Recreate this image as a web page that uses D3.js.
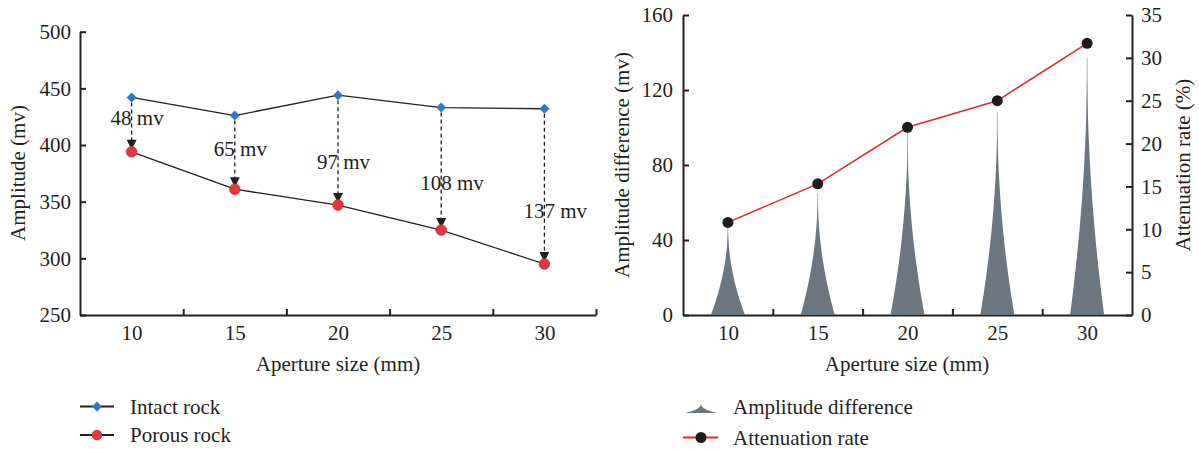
<!DOCTYPE html>
<html><head><meta charset="utf-8">
<script src="https://cdnjs.cloudflare.com/ajax/libs/d3/7.8.5/d3.min.js"></script>
<style>
body{margin:0;background:#fff;}
svg text{font-family:"Liberation Serif","Times New Roman",serif;fill:#231f20;}
</style></head>
<body><svg id="c" width="1199" height="449"></svg>
<script>
// ---- data ----
const apertureSizes = [10, 15, 20, 25, 30];
const intactRock = [442, 426, 444, 433, 432];
const porousRock = [394, 361, 347, 325, 295];
const differenceLabels = ["48 mv", "65 mv", "97 mv", "108 mv", "137 mv"];
const labelLevels = [424, 397, 385, 366.5, 342]; // annotation anchor (mv)
const amplitudeDifference = [48, 65, 97, 108, 137];
const attenuationRate = [10.8, 15.3, 21.9, 25.0, 31.7];
const leftYTicks = [250, 300, 350, 400, 450, 500];
const diffTicks = [0, 40, 80, 120, 160];
const rateTicks = [0, 5, 10, 15, 20, 25, 30, 35];

const svg = d3.select("#c");
const ink = "#231f20";
const FS = 21;

function styleAxis(g){
  g.selectAll("path.domain").attr("stroke", ink).attr("stroke-width", 2);
  g.selectAll(".tick line").attr("stroke", ink).attr("stroke-width", 2);
  g.selectAll("text").attr("font-size", FS).attr("fill", ink)
    .attr("font-family", '"Liberation Serif","Times New Roman",serif');
}

// ================= LEFT CHART =================
const xL = d3.scaleLinear().domain([7.5, 32.5]).range([80, 596]);
const yL = d3.scaleLinear().domain([250, 500]).range([315, 31.7]);

svg.append("g").attr("transform", "translate(80,0)")
  .call(d3.axisLeft(yL).tickValues(leftYTicks).tickSizeInner(-6).tickSizeOuter(0).tickPadding(9))
  .call(styleAxis);
svg.append("g").attr("transform", "translate(0,315)")
  .call(d3.axisBottom(xL).tickValues(apertureSizes).tickSize(0).tickPadding(10).tickFormat(d3.format("d")))
  .call(styleAxis);
svg.append("g").attr("transform", "translate(0,315)")
  .call(d3.axisBottom(xL).tickValues([12.5, 17.5, 22.5, 27.5, 32.5]).tickSizeInner(-6).tickSizeOuter(0).tickFormat(""))
  .call(styleAxis).select("path.domain").remove();

// arrows
const defs = svg.append("defs");
defs.append("marker").attr("id", "arr").attr("viewBox", "0 0 10 10")
  .attr("refX", 10).attr("refY", 5).attr("markerWidth", 11).attr("markerHeight", 10)
  .attr("markerUnits", "userSpaceOnUse").attr("orient", "auto")
  .append("path").attr("d", "M0,0 L10,5 L0,10 Z").attr("fill", ink);

apertureSizes.forEach((a, i) => {
  svg.append("line").attr("x1", xL(a)).attr("x2", xL(a))
    .attr("y1", yL(intactRock[i]) + 5).attr("y2", yL(porousRock[i]) - 2)
    .attr("stroke", ink).attr("stroke-width", 1.3).attr("stroke-dasharray", "4,3")
    .attr("marker-end", "url(#arr)");
});

const lineL = d3.line().x((d, i) => xL(apertureSizes[i])).y(d => yL(d));
svg.append("path").datum(intactRock).attr("d", lineL).attr("fill", "none").attr("stroke", ink).attr("stroke-width", 1.3);
svg.append("path").datum(porousRock).attr("d", lineL).attr("fill", "none").attr("stroke", ink).attr("stroke-width", 1.3);

const diamond = d3.symbol().type(d3.symbolSquare).size(50);
svg.selectAll(".intact").data(intactRock).enter().append("path")
  .attr("transform", (d, i) => `translate(${xL(apertureSizes[i])},${yL(d)}) rotate(45)`)
  .attr("d", diamond).attr("fill", "#2f78c4");
svg.selectAll(".porous").data(porousRock).enter().append("circle")
  .attr("cx", (d, i) => xL(apertureSizes[i])).attr("cy", d => yL(d)).attr("r", 5.3)
  .attr("fill", "#e2383d").attr("stroke", "#d42a30").attr("stroke-width", 0.8);

svg.selectAll(".dl").data(differenceLabels).enter().append("text")
  .attr("x", (d, i) => xL(apertureSizes[i]) - 21).attr("y", (d, i) => yL(labelLevels[i]))
  .attr("dy", "0.35em").attr("font-size", FS).text(d => d);

svg.append("text").attr("transform", "translate(18,173) rotate(-90)")
  .attr("text-anchor", "middle").attr("dy", "0.35em").attr("font-size", FS).text("Amplitude (mv)");
svg.append("text").attr("x", 338).attr("y", 371).attr("text-anchor", "middle")
  .attr("font-size", FS).text("Aperture size (mm)");

// legend left
[["Intact rock", "d"], ["Porous rock", "c"]].forEach((it, k) => {
  const yy = 406.5 + k * 28.5;
  svg.append("line").attr("x1", 80).attr("x2", 114).attr("y1", yy).attr("y2", yy)
    .attr("stroke", ink).attr("stroke-width", 2);
  if (it[1] === "d") svg.append("path").attr("transform", `translate(97,${yy}) rotate(45)`).attr("d", diamond).attr("fill", "#2f78c4");
  else svg.append("circle").attr("cx", 97).attr("cy", yy).attr("r", 5.3).attr("fill", "#e2383d");
  svg.append("text").attr("x", 130).attr("y", yy).attr("dy", "0.35em").attr("font-size", FS).text(it[0]);
});

// ================= RIGHT CHART =================
const xR = d3.scaleLinear().domain([7.5, 32.5]).range([683, 1132]);
const yD = d3.scaleLinear().domain([0, 160]).range([315, 15]);
const yA = d3.scaleLinear().domain([0, 35]).range([315, 15]);

svg.append("g").attr("transform", "translate(683,0)")
  .call(d3.axisLeft(yD).tickValues(diffTicks).tickSizeInner(-6).tickSizeOuter(0).tickPadding(10))
  .call(styleAxis);
svg.append("g").attr("transform", "translate(1132,0)")
  .call(d3.axisRight(yA).tickValues(rateTicks).tickSizeInner(-6).tickSizeOuter(0).tickPadding(9))
  .call(styleAxis);
svg.append("g").attr("transform", "translate(0,315)")
  .call(d3.axisBottom(xR).tickValues(apertureSizes).tickSize(0).tickPadding(10).tickFormat(d3.format("d")))
  .call(styleAxis);
svg.append("g").attr("transform", "translate(0,315)")
  .call(d3.axisBottom(xR).tickValues([12.5, 17.5, 22.5, 27.5]).tickSizeInner(-6).tickSizeOuter(0).tickFormat(""))
  .call(styleAxis).select("path.domain").remove();

// spikes
const spikeColor = "#6b7680";
const halfBase = (xR(12.5) - xR(10)) * 0.38;
const ts = d3.range(0, 1.0001, 0.01);
apertureSizes.forEach((a, i) => {
  const cx = xR(a), v = amplitudeDifference[i];
  svg.append("line").attr("x1", cx).attr("x2", cx).attr("y1", yD(0)).attr("y2", yD(v))
    .attr("stroke", "#b4bbc1").attr("stroke-width", 1);
  const area = d3.area()
    .y(t => yD(v * t))
    .x0(t => cx - halfBase * Math.pow(1 - t, 2))
    .x1(t => cx + halfBase * Math.pow(1 - t, 2));
  svg.append("path").datum(ts).attr("d", area).attr("fill", spikeColor);
});

const lineR = d3.line().x((d, i) => xR(apertureSizes[i])).y(d => yA(d));
svg.append("path").datum(attenuationRate).attr("d", lineR).attr("fill", "none")
  .attr("stroke", "#e8262d").attr("stroke-width", 1.5);
svg.selectAll(".ar").data(attenuationRate).enter().append("circle")
  .attr("cx", (d, i) => xR(apertureSizes[i])).attr("cy", d => yA(d)).attr("r", 5.5).attr("fill", "#1c1c1c");

svg.append("text").attr("transform", "translate(622,165) rotate(-90)")
  .attr("text-anchor", "middle").attr("dy", "0.35em").attr("font-size", FS).text("Amplitude difference (mv)");
svg.append("text").attr("transform", "translate(1183,165) rotate(-90)")
  .attr("text-anchor", "middle").attr("dy", "0.35em").attr("font-size", FS).text("Attenuation rate (%)");
svg.append("text").attr("x", 907).attr("y", 371).attr("text-anchor", "middle")
  .attr("font-size", FS).text("Aperture size (mm)");

// legend right
const iconT = d3.range(0, 1.0001, 0.02);
const iconArea = d3.area().y(t => 413 - 11 * t)
  .x0(t => 701 - 16 * Math.pow(1 - t, 3)).x1(t => 701 + 16 * Math.pow(1 - t, 3));
svg.append("path").datum(iconT).attr("d", iconArea).attr("fill", spikeColor);
svg.append("text").attr("x", 733).attr("y", 406.5).attr("dy", "0.35em").attr("font-size", FS).text("Amplitude difference");
svg.append("line").attr("x1", 683).attr("x2", 718).attr("y1", 437.5).attr("y2", 437.5)
  .attr("stroke", "#e8262d").attr("stroke-width", 2);
svg.append("circle").attr("cx", 701).attr("cy", 437.5).attr("r", 5.5).attr("fill", "#1c1c1c");
svg.append("text").attr("x", 733).attr("y", 437.5).attr("dy", "0.35em").attr("font-size", FS).text("Attenuation rate");
</script></body></html>
